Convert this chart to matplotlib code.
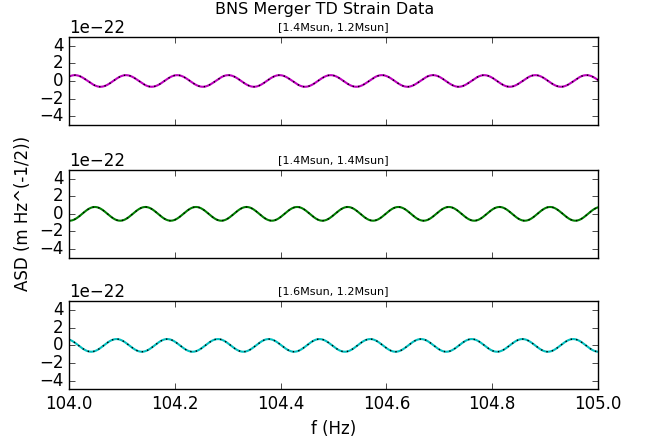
import numpy as np
import matplotlib
matplotlib.use('Agg')
import matplotlib.pyplot as plt

plt.style.use('classic')

# values (strain in units of 1e-22)
f_lo, f_hi = 104.0, 105.0
mass_labels = ['[1.4Msun, 1.2Msun]', '[1.4Msun, 1.4Msun]', '[1.6Msun, 1.2Msun]']
amplitude = [0.66e-22, 0.78e-22, 0.72e-22]
period = [0.0967, 0.0956, 0.0959]
first_peak = [104.0113, 104.049, 104.090]
colors = ['m', 'g', 'c']
yticks = [-4, -2, 0, 2, 4]
xticks = [104.0, 104.2, 104.4, 104.6, 104.8, 105.0]

f = np.linspace(f_lo, f_hi, 2000)

fig = plt.figure(figsize=(6.5, 4.4), dpi=100)
fig.suptitle('BNS Merger TD Strain Data', fontsize=11.5, y=0.995)

tops = [0.916, 0.614, 0.315]
h_ax = 0.2
axes = []
for i in range(3):
    ax = fig.add_axes([0.106, tops[i] - h_ax, 0.814, h_ax])
    strain = amplitude[i] * np.cos(2 * np.pi * (f - first_peak[i]) / period[i])
    ax.plot(f, strain, color=colors[i], linewidth=1.5)
    ax.plot(f, strain, 'k:', linewidth=1.0)
    ax.set_xlim(f_lo, f_hi)
    ax.set_ylim(-5e-22, 5e-22)
    ax.set_yticks([t * 1e-22 for t in yticks])
    ax.set_xticks(xticks)
    ax.xaxis.get_major_formatter().set_useOffset(False)
    ax.set_title(mass_labels[i], fontsize=8)
    if i < 2:
        ax.set_xticklabels([])
    axes.append(ax)

axes[2].set_xlabel('f (Hz)')
fig.text(0.035, 0.515, 'ASD (m Hz^(-1/2))', rotation=90, va='center', ha='center', fontsize=12)

fig.savefig('out.png', dpi=100, facecolor='w')
